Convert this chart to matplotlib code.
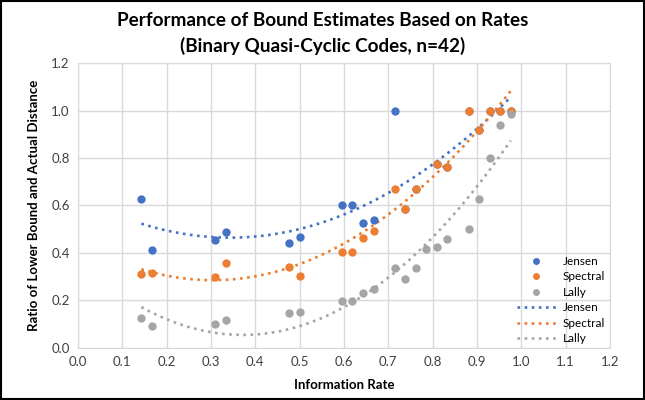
#!/usr/bin/env python3

import numpy as np
import matplotlib
matplotlib.use("Agg")
import matplotlib.pyplot as plt
from matplotlib.lines import Line2D
from matplotlib.patches import Rectangle

plt.rcParams["font.family"] = ["Lato", "DejaVu Sans"]

# information rates k/42 and bound ratios
jensen_rate = [0.143, 0.167, 0.310, 0.333, 0.476, 0.500, 0.595, 0.619, 0.643, 0.667,
               0.714, 0.738, 0.762, 0.810, 0.833, 0.881, 0.905, 0.929, 0.952, 0.976]
jensen_ratio = [0.627, 0.412, 0.453, 0.488, 0.443, 0.468, 0.602, 0.602, 0.525, 0.539,
                1.000, 0.585, 0.668, 0.776, 0.761, 1.000, 0.918, 1.000, 1.000, 1.000]

spectral_rate = [0.143, 0.167, 0.310, 0.333, 0.476, 0.500, 0.595, 0.619, 0.643, 0.667,
                 0.714, 0.738, 0.762, 0.810, 0.833, 0.881, 0.905, 0.929, 0.952, 0.976]
spectral_ratio = [0.311, 0.317, 0.300, 0.356, 0.340, 0.304, 0.402, 0.402, 0.461, 0.494,
                  0.668, 0.585, 0.668, 0.776, 0.761, 1.000, 0.918, 1.000, 1.000, 1.000]

lally_rate = [0.143, 0.167, 0.310, 0.333, 0.476, 0.500, 0.595, 0.619, 0.643, 0.667,
              0.714, 0.738, 0.762, 0.786, 0.810, 0.833, 0.881, 0.905, 0.929, 0.952, 0.976]
lally_ratio = [0.127, 0.092, 0.100, 0.116, 0.145, 0.151, 0.198, 0.198, 0.229, 0.249,
               0.335, 0.290, 0.335, 0.416, 0.426, 0.457, 0.500, 0.627, 0.802, 0.940, 0.986]

series = [
    ("Jensen", jensen_rate, jensen_ratio, "#4472C4"),
    ("Spectral", spectral_rate, spectral_ratio, "#ED7D31"),
    ("Lally", lally_rate, lally_ratio, "#A5A5A5"),
]

ticks = [round(0.1 * i, 1) for i in range(13)]
yticks = [0.0, 0.2, 0.4, 0.6, 0.8, 1.0, 1.2]


def main():
    fig = plt.figure(figsize=(6.45, 4.0), dpi=100)
    ax = fig.add_axes([0.1209, 0.1308, 0.8248, 0.711])

    for name, x, y, color in series:
        # Excel style polynomial (order 2) trendline
        coef = np.polyfit(x, y, 2)
        xs = np.linspace(min(x), max(x), 200)
        ax.plot(xs, np.polyval(coef, xs), linestyle=(0, (1, 1.7)), linewidth=1.9,
                color=color, zorder=2)
    for name, x, y, color in series:
        ax.scatter(x, y, s=36, color=color, zorder=3, linewidths=0)

    ax.set_xlim(0, 1.2)
    ax.set_ylim(0, 1.2)
    ax.set_xticks(ticks)
    ax.set_yticks(yticks)
    ax.set_xticklabels(["%.1f" % t for t in ticks])
    ax.set_yticklabels(["%.1f" % t for t in yticks])
    ax.tick_params(length=0, labelsize=9.5, labelcolor="#404040", pad=6)
    ax.grid(True, color="#D9D9D9", linewidth=1.0)
    ax.set_axisbelow(True)
    for s in ax.spines.values():
        s.set_color("#D9D9D9")

    ax.set_xlabel("Information Rate", fontsize=9.5, fontweight="bold", labelpad=8)
    ax.set_ylabel("Ratio of Lower Bound and Actual Distance", fontsize=9.5,
                  fontweight="bold", labelpad=8)

    fig.text(0.5, 0.95, "Performance of Bound Estimates Based on Rates",
             ha="center", va="center", fontsize=13.6, fontweight="bold")
    fig.text(0.5, 0.886, "(Binary Quasi-Cyclic Codes, n=42)",
             ha="center", va="center", fontsize=13.6, fontweight="bold")

    handles = []
    labels = []
    for name, x, y, color in series:
        handles.append(Line2D([], [], linestyle="none", marker="o", markersize=5,
                              color=color, markeredgewidth=0))
        labels.append(name)
    for name, x, y, color in series:
        handles.append(Line2D([], [], linestyle=(0, (1, 1.7)), linewidth=1.9,
                              color=color))
        labels.append(name)
    ax.legend(handles, labels, loc="lower right", frameon=False, fontsize=8.5,
              handlelength=3.3, handletextpad=0.6, labelspacing=0.38,
              borderaxespad=0.0, bbox_to_anchor=(1.0, -0.005))

    fig.patches.append(Rectangle((0.002, 0.003), 0.996, 0.994, transform=fig.transFigure,
                                 fill=False, edgecolor="black", linewidth=1.5))

    fig.savefig("out.png", dpi=100)
    plt.close()


if __name__ == "__main__":
    main()
